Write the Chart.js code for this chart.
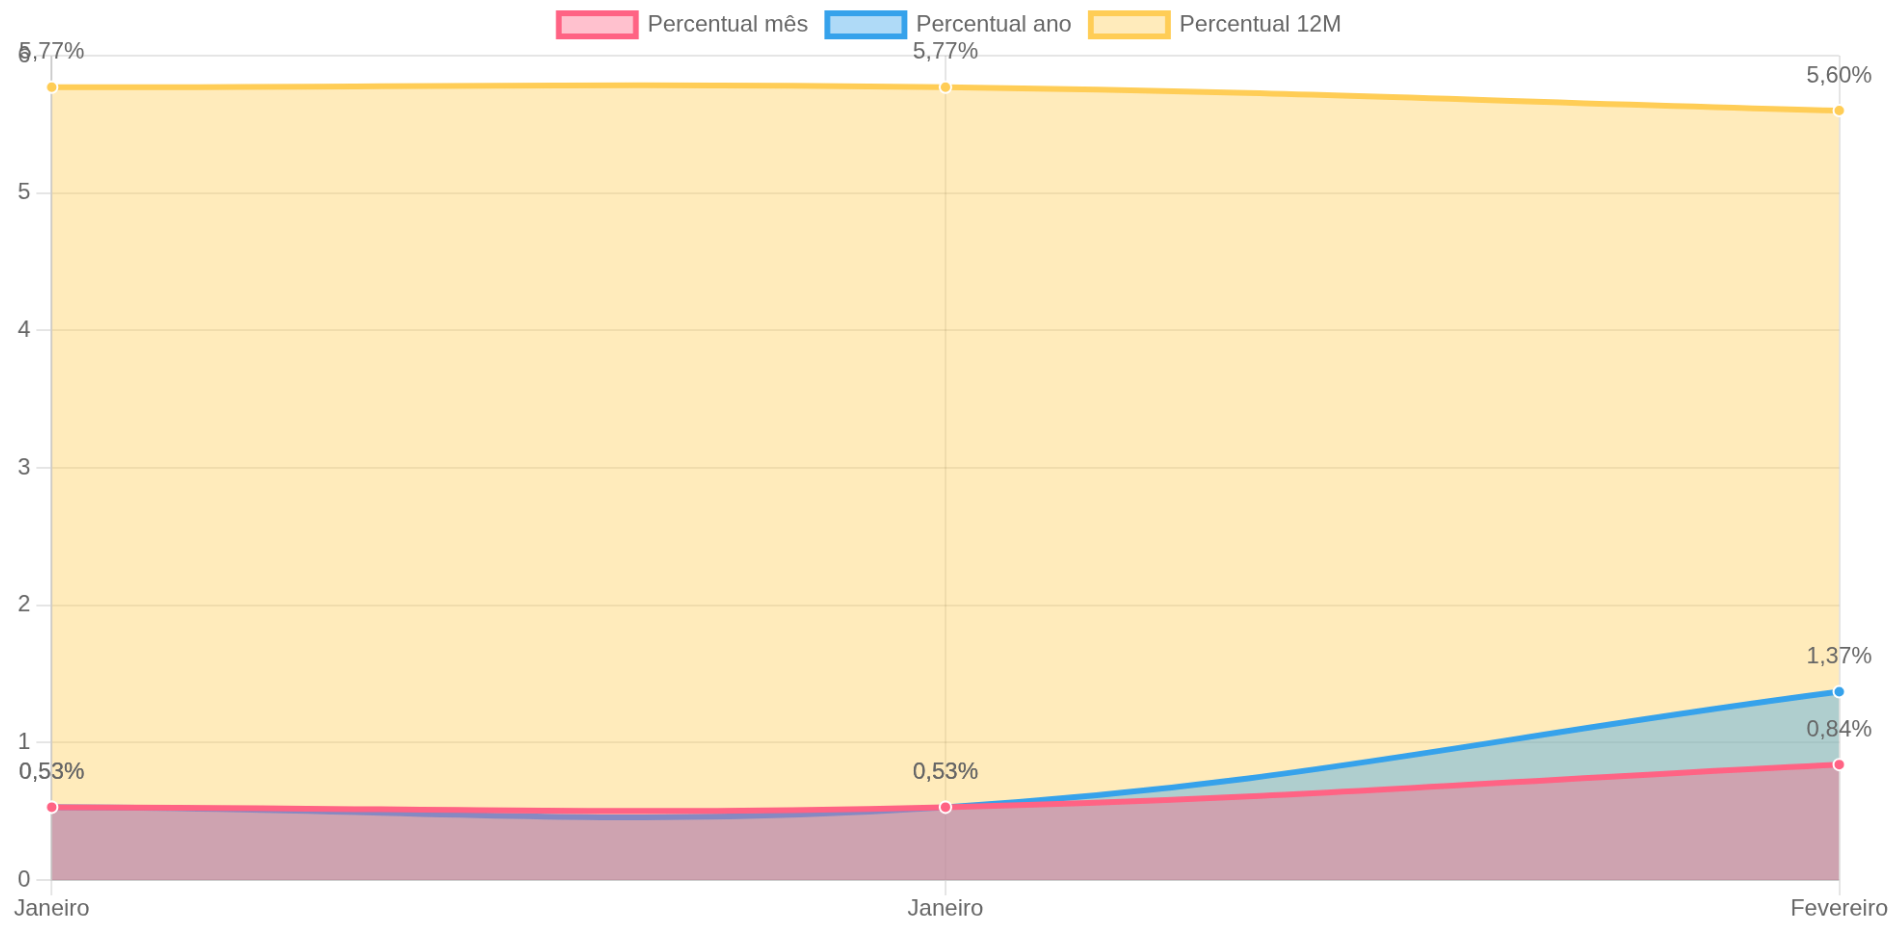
<!DOCTYPE html>
<html>
<head>
<meta charset="utf-8">
<script src="https://cdn.jsdelivr.net/npm/chart.js@4/dist/chart.umd.min.js"></script>
<style>
  html, body { margin: 0; padding: 0; background: #fff; overflow: hidden; }
  #wrap { position: absolute; left: 7.8px; top: -6.4px; width: 978.8px; height: 482.4px; transform: scale(1.926); transform-origin: 0 0; }
</style>
</head>
<body>
<div id="wrap"><canvas id="grafico"></canvas></div>
<script>
const meses = ["Janeiro", "Janeiro", "Fevereiro"];
const percentualMes = [0.53, 0.53, 0.84];
const percentualAno = [0.53, 0.53, 1.37];
const percentual12M = [5.77, 5.77, 5.60];

function formata(v) {
  return v.toFixed(2).replace(".", ",") + "%";
}

// rótulos acima de cada ponto (no lugar do chartjs-plugin-datalabels)
const rotulos = {
  id: "rotulos",
  afterDatasetsDraw(chart) {
    const ctx = chart.ctx;
    ctx.save();
    ctx.font = "12px 'Helvetica Neue', Helvetica, Arial, sans-serif";
    ctx.fillStyle = "#666";
    ctx.textAlign = "center";
    ctx.textBaseline = "middle";
    chart.data.datasets.forEach((ds, i) => {
      const meta = chart.getDatasetMeta(i);
      meta.data.forEach((pt, j) => {
        ctx.fillText(formata(ds.data[j]), pt.x, pt.y - 18);
      });
    });
    ctx.restore();
  }
};

new Chart(document.getElementById("grafico"), {
  type: "line",
  data: {
    labels: meses,
    datasets: [
      {
        label: "Percentual mês",
        data: percentualMes,
        borderColor: "rgb(255, 99, 132)",
        backgroundColor: "rgba(255, 99, 132, 0.4)",
        pointBackgroundColor: "rgb(255, 99, 132)",
        pointBorderColor: "#fff",
        fill: true,
        tension: 0.4
      },
      {
        label: "Percentual ano",
        data: percentualAno,
        borderColor: "rgb(54, 162, 235)",
        backgroundColor: "rgba(54, 162, 235, 0.4)",
        pointBackgroundColor: "rgb(54, 162, 235)",
        pointBorderColor: "#fff",
        fill: true,
        tension: 0.4
      },
      {
        label: "Percentual 12M",
        data: percentual12M,
        borderColor: "rgb(255, 205, 86)",
        backgroundColor: "rgba(255, 205, 86, 0.4)",
        pointBackgroundColor: "rgb(255, 205, 86)",
        pointBorderColor: "#fff",
        fill: true,
        tension: 0.4
      }
    ]
  },
  options: {
    responsive: true,
    maintainAspectRatio: false,
    devicePixelRatio: 2,
    animation: false,
    layout: { padding: { left: 2, right: 3 } },
    plugins: {
      legend: { position: "top" },
      tooltip: { enabled: false }
    },
    scales: {
      x: {
        ticks: { padding: 0 },
        afterFit(scale) {
          scale.paddingRight = 28.5;
        }
      },
      y: { beginAtZero: true }
    }
  },
  plugins: [rotulos]
});
</script>
</body>
</html>
